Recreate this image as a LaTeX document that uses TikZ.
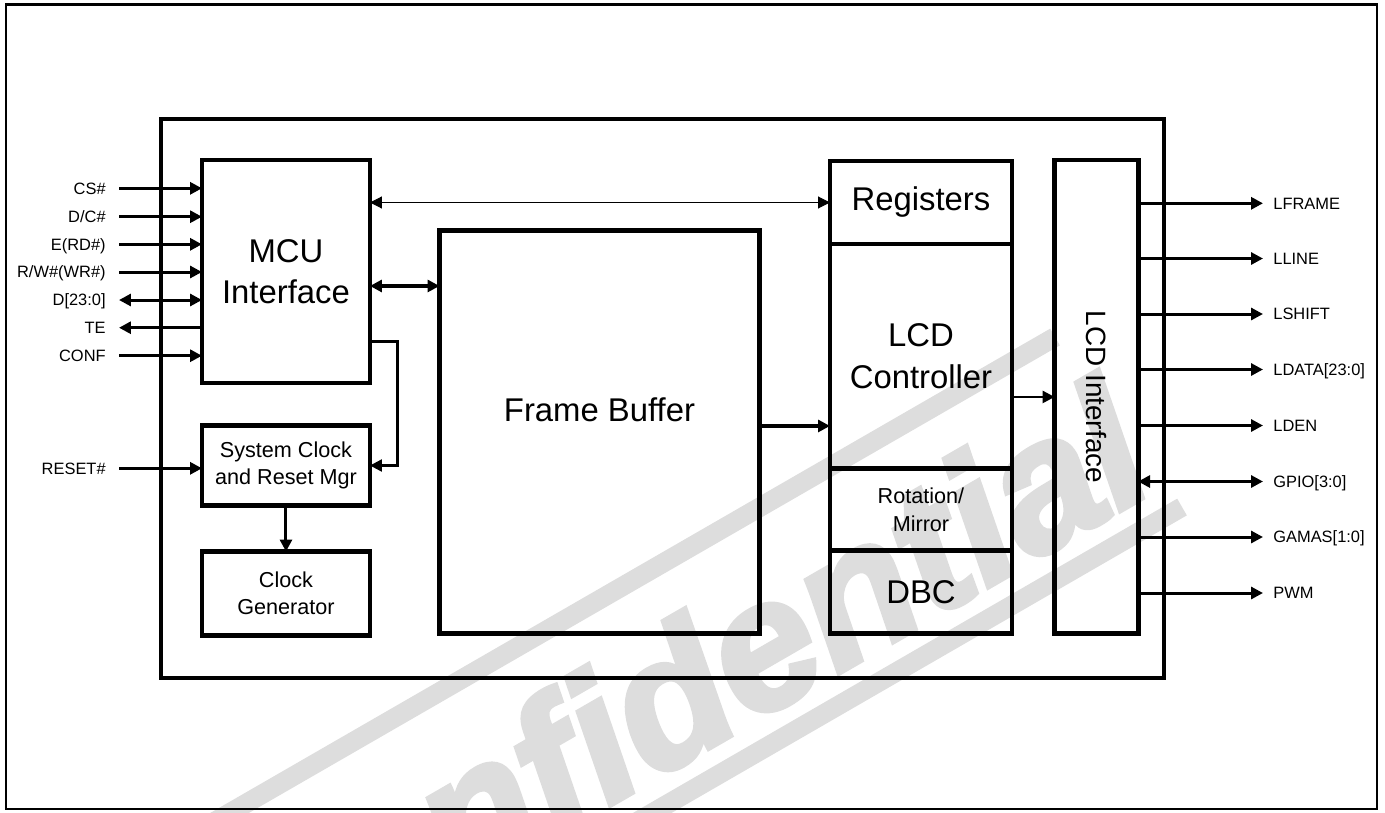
\documentclass[tikz,border=0pt]{standalone}
\usepackage{fontspec}
\setmainfont{Liberation Sans}
\newfontfamily\wmfont{Liberation Sans}[BoldItalicFeatures={FakeBold=3}]
\usetikzlibrary{arrows.meta,positioning}
\definecolor{wmgray}{RGB}{221,221,221}
\tikzset{
  blk/.style={draw,line width=2.8pt,inner sep=0pt,outer sep=0pt,anchor=north west,align=center,font=\fontsize{18.7}{23.6}\selectfont},
  smallblk/.style={blk,font=\fontsize{12.3}{15.5}\selectfont},
  inlbl/.style={anchor=east,inner xsep=0.26cm,inner ysep=0pt,text height=6.7pt,text depth=0pt,font=\fontsize{9.35}{11}\selectfont},
  outlbl/.style={anchor=west,inner xsep=0.2cm,inner ysep=0pt,text height=6.7pt,text depth=0pt,font=\fontsize{9.35}{11}\selectfont},
  sig/.style={line width=1.7pt},
  bus/.style={line width=2.8pt},
  fine/.style={line width=0.6pt},
  wmband/.style={wmgray,line width=11pt}
}
\begin{document}
\begin{tikzpicture}[x=0.02cm,y=-0.02cm,>={Triangle[length=6.8pt,width=6.8pt]}]
\useasboundingbox (0,0) rectangle (1385,812);
\begin{scope}
  \clip (0,0) rectangle (1385,812);
  \draw [wmband] (63,909) -- (1055,337);
  \draw [wmband] (169,1092) -- (1182,507);
  \node [wmgray,rotate=30,inner sep=0pt,font=\fontsize{104}{114}\wmfont\bfseries\itshape] (wm) at (672,694) {Confidential};
\end{scope}
\draw [line width=1.3pt] (6,4.5) rectangle (1377,809);
\draw [line width=2.8pt] (161,119) rectangle (1164,678);

\node [blk,minimum width=3.36cm,minimum height=4.46cm] (mcu) at (202,160) {MCU\\Interface};
\node [smallblk,minimum width=3.36cm,minimum height=1.6cm] (sysclk) at (202,425.5) {System Clock\\and Reset Mgr};
\node [smallblk,minimum width=3.36cm,minimum height=1.68cm] (clkgen) at (202,551.5) {Clock\\Generator};
\node [blk,minimum width=6.4cm,minimum height=8.07cm] (fb) at (439.5,230.5) {};
\node [font=\fontsize{18.7}{23.6}\selectfont] (fbtext) at (599.5,410) {Frame Buffer};
\node [blk,minimum width=3.64cm,minimum height=1.66cm] (reg) at (830,161) {Registers};
\node [blk,minimum width=3.64cm,minimum height=4.49cm] (lcdc) at (reg.south west) {LCD\\Controller};
\node [smallblk,minimum width=3.64cm,minimum height=1.65cm] (rot) at (lcdc.south west) {Rotation/\\Mirror};
\node [blk,minimum width=3.64cm,minimum height=1.66cm] (dbc) at (rot.south west) {DBC};
\node [blk,minimum width=1.67cm,minimum height=9.48cm] (lcdi) at (1054.6,160) {};
\node [rotate=-90,font=\fontsize{15.9}{18}\selectfont] (lcditext) at (lcdi.center) {LCD Interface};

\draw [fine,<->] (reg.west -| mcu.east) -- (reg.west);
\draw [bus,<->] ([yshift=-2.52cm]mcu.north east) -- ([yshift=-2.52cm]mcu.north east -| fb.west);
\draw [bus,->] ([yshift=-3.91cm]fb.north east) -- ([yshift=-3.91cm]fb.north east -| lcdc.west);
\draw [line width=1.4pt,->] (lcdi.west -| lcdc.east) -- (lcdi.west);
\draw [line width=1.3pt,->] ([yshift=-3.63cm]mcu.north east) -| ([xshift=0.55cm]sysclk.east) -- (sysclk.east);
\draw [sig,->] (sysclk) -- (clkgen);

\node [inlbl] (cs) at (119,188.3) {CS\#};
\node [inlbl] (dc) at (119,216.7) {D/C\#};
\node [inlbl] (rd) at (119,244.3) {E(RD\#)};
\node [inlbl] (wr) at (119,272) {R/W\#(WR\#)};
\node [inlbl] (data) at (119,300) {D[23:0]};
\node [inlbl] (te) at (119,327.7) {TE};
\node [inlbl] (conf) at (119,355.7) {CONF};
\node [inlbl] (reset) at (119,468.3) {RESET\#};
\draw [sig,->] (cs.east) -- (cs.east -| mcu.west);
\draw [sig,->] (dc.east) -- (dc.east -| mcu.west);
\draw [sig,->] (rd.east) -- (rd.east -| mcu.west);
\draw [sig,->] (wr.east) -- (wr.east -| mcu.west);
\draw [sig,<->] (data.east) -- (data.east -| mcu.west);
\draw [sig,<-] (te.east) -- (te.east -| mcu.west);
\draw [sig,->] (conf.east) -- (conf.east -| mcu.west);
\draw [sig,->] (reset.east) -- (reset.east -| sysclk.west);

\node [outlbl] (lframe) at (1263,203.3) {LFRAME};
\node [outlbl] (lline) at (1263,258.5) {LLINE};
\node [outlbl] (lshift) at (1263,314) {LSHIFT};
\node [outlbl] (ldata) at (1263,369.5) {LDATA[23:0]};
\node [outlbl] (lden) at (1263,425.5) {LDEN};
\node [outlbl] (gpio) at (1263,481.5) {GPIO[3:0]};
\node [outlbl] (gamas) at (1263,537) {GAMAS[1:0]};
\node [outlbl] (pwm) at (1263,593) {PWM};
\draw [sig,->] (lframe.west -| lcdi.east) -- (lframe.west);
\draw [sig,->] (lline.west -| lcdi.east) -- (lline.west);
\draw [sig,->] (lshift.west -| lcdi.east) -- (lshift.west);
\draw [sig,->] (ldata.west -| lcdi.east) -- (ldata.west);
\draw [sig,->] (lden.west -| lcdi.east) -- (lden.west);
\draw [sig,<->] (gpio.west -| lcdi.east) -- (gpio.west);
\draw [sig,->] (gamas.west -| lcdi.east) -- (gamas.west);
\draw [sig,->] (pwm.west -| lcdi.east) -- (pwm.west);
\end{tikzpicture}
\end{document}
